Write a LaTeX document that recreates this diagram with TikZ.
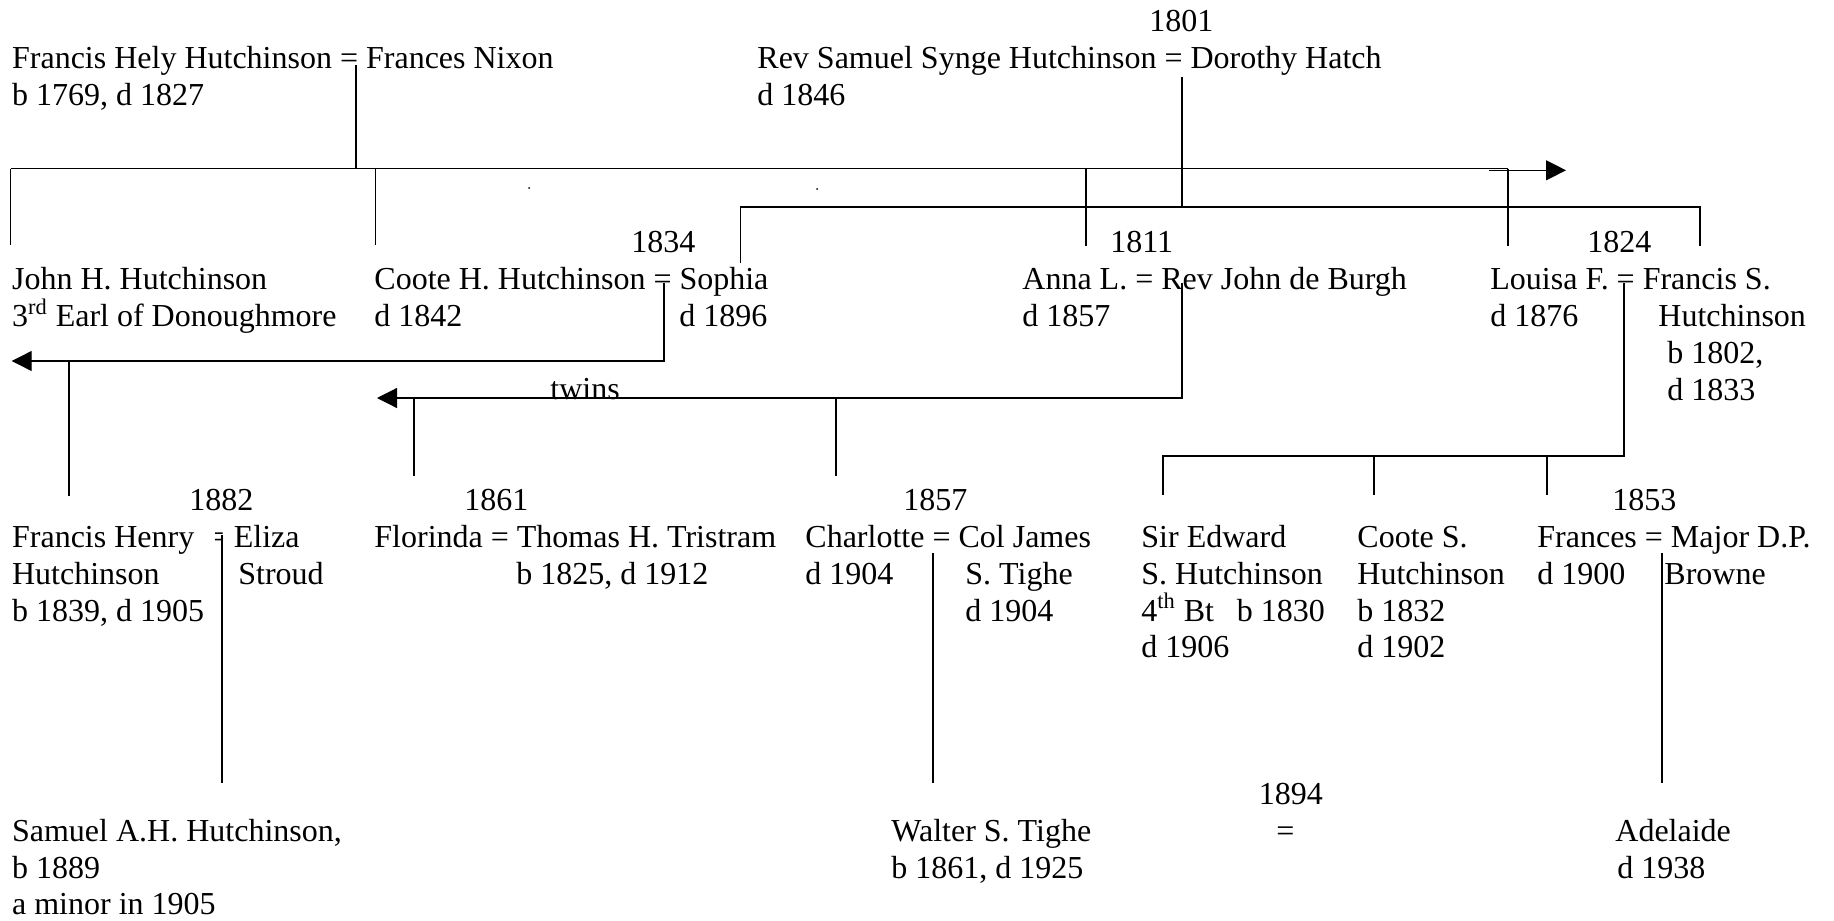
\documentclass[tikz,border=0pt]{standalone}
\usepackage{fontspec}
\setmainfont{Liberation Serif}
\usetikzlibrary{arrows.meta}
\begin{document}
\begin{tikzpicture}[x=0.5pt,y=-0.5pt,
  txt/.style={anchor=base west, inner sep=0pt, yshift=-0.9pt, font=\fontsize{16pt}{18.5pt}\selectfont},
  ln/.style={line width=0.6pt},
  arr/.style={ln, -{Triangle[length=10pt,width=10pt]}}]
\useasboundingbox (0,0) rectangle (1834,920);
% ---------- row 1 ----------
\node[txt] (fhh) at (11.7,66.5) {Francis Hely Hutchinson = Frances Nixon};
\node[txt] (fhhd) at (11.7,103.5) {b 1769, d 1827};
\node[txt] (y1801) at (1149,30) {1801};
\node[txt] (rss) at (757,66.5) {Rev Samuel Synge Hutchinson = Dorothy Hatch};
\node[txt] (rssd) at (757,103.5) {d 1846};
% ---------- row 2 ----------
\node[txt] (y1834) at (631,251) {1834};
\node[txt] (jhh) at (11.7,288) {John H. Hutchinson};
\node[txt] (jhh2) at (11.7,325) {3\textsuperscript{rd} Earl of Donoughmore};
\node[txt] (chh) at (374,288) {Coote H. Hutchinson = Sophia};
\node[txt] (chhd) at (374,325) {d 1842};
\node[txt] (sod) at (679,325) {d 1896};
\node[txt] (y1811) at (1110,251) {1811};
\node[txt] (anna) at (1022,288) {Anna L. = Rev John de Burgh};
\node[txt] (annad) at (1022,325) {d 1857};
\node[txt] (y1824) at (1587,251) {1824};
\node[txt] (lou) at (1490,288) {Louisa F. = Francis S.};
\node[txt] (loud) at (1490,325) {d 1876};
\node[txt] (fsh1) at (1658,325) {Hutchinson};
\node[txt] (fsh2) at (1667,362) {b 1802,};
\node[txt] (fsh3) at (1667,399) {d 1833};
\node[txt] (twins) at (550,398) {twins};
% ---------- row 3 ----------
\node[txt] (y1882) at (189,508.5) {1882};
\node[txt] (fh1) at (11.7,545.5) {Francis Henry};
\begin{scope}
  \clip (215,520) rectangle (232,552);
  \node[txt] (fheq) at (206,545.5) {=};
\end{scope}
\node[txt] (eliza) at (233.5,545.5) {Eliza};
\node[txt] (fh2) at (11.7,582.5) {Hutchinson};
\node[txt] (stroud) at (238,582.5) {Stroud};
\node[txt] (fh3) at (11.7,619.5) {b 1839, d 1905};
\node[txt] (y1861) at (464,508.5) {1861};
\node[txt] (flo) at (374,545.5) {Florinda = Thomas H. Tristram};
\node[txt] (thd) at (516,582.5) {b 1825, d 1912};
\node[txt] (y1857) at (903,508.5) {1857};
\node[txt] (cha) at (805,545.5) {Charlotte = Col James};
\node[txt] (chad) at (805,582.5) {d 1904};
\node[txt] (jst1) at (965,582.5) {S. Tighe};
\node[txt] (jst2) at (965,619.5) {d 1904};
\node[txt] (se1) at (1141,545.5) {Sir Edward};
\node[txt] (se2) at (1141,582.5) {S. Hutchinson};
\node[txt] (se3) at (1141,619.5) {4\textsuperscript{th} Bt};
\node[txt] (se3b) at (1236.5,619.5) {b 1830};
\node[txt] (se4) at (1141,656) {d 1906};
\node[txt] (cs1) at (1357,545.5) {Coote S.};
\node[txt] (cs2) at (1357,582.5) {Hutchinson};
\node[txt] (cs3) at (1357,619.5) {b 1832};
\node[txt] (cs4) at (1357,656) {d 1902};
\node[txt] (y1853) at (1612,508.5) {1853};
\node[txt] (fra) at (1537,545.5) {Frances = Major D.P.};
\node[txt] (frad) at (1537,582.5) {d 1900};
\node[txt] (brw) at (1664,582.5) {Browne};
% ---------- row 4 ----------
\node[txt] (sam1) at (11.7,839.5) {Samuel A.H. Hutchinson,};
\node[txt] (sam2) at (11.7,876.5) {b 1889};
\node[txt] (sam3) at (11.7,913) {a minor in 1905};
\node[txt] (wal1) at (891,839.5) {Walter S. Tighe};
\node[txt] (wal2) at (891,876.5) {b 1861, d 1925};
\node[txt] (y1894) at (1258.5,803) {1894};
\node[txt] (eq94) at (1276,839.5) {=};
\node[txt] (ade1) at (1615,839.5) {Adelaide};
\node[txt] (ade2) at (1617,876.5) {d 1938};
% ---------- coordinates ----------
\coordinate (m1) at (356,65);
\coordinate (b1l) at (10.6,168.5);
\coordinate (b1m) at (356,168.5);
\coordinate (b1r) at (1508,168.5);
\coordinate (a1s) at (1489,170.3);
\coordinate (a1e) at (1566,170.3);
\coordinate (d1a) at (10.6,245);
\coordinate (c1b) at (375.6,168.5);
\coordinate (d1b) at (375.6,245);
\coordinate (c1c) at (1086,168.5);
\coordinate (d1c) at (1086,246);
\coordinate (d1d) at (1508,246);
\coordinate (m2) at (1182,77);
\coordinate (b2m) at (1182,207);
\coordinate (b2l) at (740.6,207);
\coordinate (b2r) at (1700,207);
\coordinate (d2l) at (740.6,263);
\coordinate (d2r) at (1700,246);
\coordinate (m3) at (664,283);
\coordinate (m3c) at (664,361);
\coordinate (a3e) at (11.7,361);
\coordinate (c3) at (69,361);
\coordinate (d3) at (69,496);
\coordinate (m4) at (1182,283);
\coordinate (m4c) at (1182,398);
\coordinate (a4e) at (377,398);
\coordinate (c4a) at (414,398);
\coordinate (d4a) at (414,476);
\coordinate (c4b) at (836,398);
\coordinate (d4b) at (836,476);
\coordinate (m5) at (1624,283);
\coordinate (m5c) at (1624,456);
\coordinate (b5l) at (1163,456);
\coordinate (d5a) at (1163,495);
\coordinate (c5b) at (1374,456);
\coordinate (d5b) at (1374,495);
\coordinate (c5c) at (1547,456);
\coordinate (d5c) at (1547,495);
\coordinate (m6) at (222,535);
\coordinate (d6) at (222,783);
\coordinate (m7) at (933,553);
\coordinate (d7) at (933,783);
\coordinate (m8) at (1662,553);
\coordinate (d8) at (1662,783);
% ---------- connectors ----------
\draw[ln] (m1) -- (b1m);
\draw[ln] (b1l) -- (b1r);
\draw[arr] (a1s) -- (a1e);
\draw[ln] (b1l) -- (d1a);
\draw[ln] (c1b) -- (d1b);
\draw[ln] (c1c) -- (d1c);
\draw[ln] (b1r) -- (d1d);
\draw[ln] (m2) -- (b2m);
\draw[ln] (d2l) -- (b2l) -- (b2r) -- (d2r);
\draw[arr] (m3) -- (m3c) -- (a3e);
\draw[ln] (c3) -- (d3);
\draw[arr] (m4) -- (m4c) -- (a4e);
\draw[ln] (c4a) -- (d4a);
\draw[ln] (c4b) -- (d4b);
\draw[ln] (m5) -- (m5c) -- (b5l) -- (d5a);
\draw[ln] (c5b) -- (d5b);
\draw[ln] (c5c) -- (d5c);
\draw[ln] (m6) -- (d6);
\draw[ln] (m7) -- (d7);
\draw[ln] (m8) -- (d8);
% tiny specks
\fill (529,188) circle (1);
\fill (817,189) circle (1);
\end{tikzpicture}
\end{document}
